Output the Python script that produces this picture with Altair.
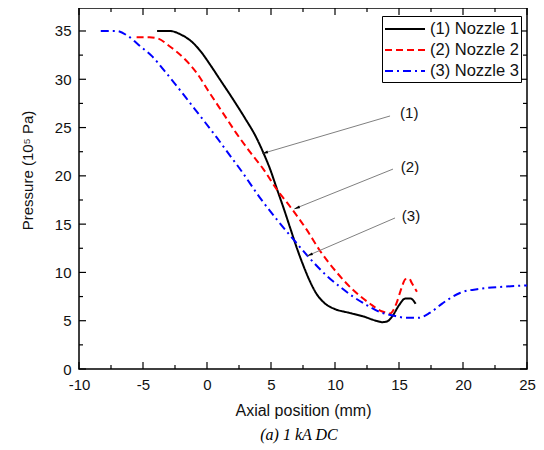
import altair as alt
import pandas as pd

# ---- data ----
n1_x = [-3.9, -2.9, -2.0, -1.2, -0.5, 0.3, 1.0, 2.0, 3.0, 3.8, 4.4, 4.9, 5.5, 6.0, 6.5, 7.0, 7.5, 8.0, 8.5, 9.2, 10.0, 11.0, 12.2, 13.2, 13.7, 14.1, 14.5, 15.0, 15.5, 15.9, 16.3]
n1_y = [35.0, 35.0, 34.6, 33.9, 32.9, 31.4, 30.0, 28.0, 25.9, 24.1, 22.4, 20.8, 18.5, 16.6, 14.6, 12.6, 10.8, 9.2, 7.9, 6.8, 6.2, 5.85, 5.45, 5.0, 4.85, 4.95, 5.5, 6.6, 7.3, 7.3, 6.75]

n2_x = [-5.5, -4.5, -3.9, -2.9, -1.9, -0.8, 0.2, 1.25, 2.3, 3.4, 4.4, 5.5, 6.5, 7.8, 8.8, 10.2, 11.4, 12.7, 13.7, 14.3, 14.8, 15.2, 15.5, 15.8, 16.0, 16.4]
n2_y = [34.35, 34.35, 34.25, 33.4, 32.3, 30.65, 28.6, 26.5, 24.4, 22.4, 20.7, 18.5, 16.8, 14.4, 12.3, 9.9, 8.2, 6.8, 5.95, 5.75, 6.8, 8.4, 9.3, 9.35, 8.9, 8.0]

n3_x = [-8.3, -7.1, -6.2, -5.2, -4.3, -3.4, -2.3, -1.3, -0.3, 0.8, 1.8, 2.8, 4.1, 5.5, 6.7, 8.0, 9.4, 10.5, 11.4, 12.5, 13.5, 14.5, 15.6, 16.5, 17.4, 18.4, 19.8, 21.3, 22.9, 25.0]
n3_y = [35.0, 35.0, 34.5, 33.4, 32.4, 31.0, 29.2, 27.5, 25.8, 23.9, 22.1, 20.3, 17.8, 15.4, 13.5, 11.5, 9.6, 8.4, 7.5, 6.6, 5.9, 5.55, 5.3, 5.3, 5.8, 6.8, 7.9, 8.3, 8.5, 8.65]

names = ["(1) Nozzle 1", "(2) Nozzle 2", "(3) Nozzle 3"]
colors = ["#000000", "#ff0000", "#0000ff"]
dashes = [[1, 0], [7, 4], [8, 4, 2, 4]]

x_major = [-10, -5, 0, 5, 10, 15, 20, 25]
x_minor = [-7.5, -2.5, 2.5, 7.5, 12.5, 17.5, 22.5]
y_major = [0, 5, 10, 15, 20, 25, 30, 35]
y_minor = [2.5, 7.5, 12.5, 17.5, 22.5, 27.5, 32.5]

ann_labels = ["(1)", "(2)", "(3)"]
ann_text_x = [15.8, 15.86, 15.94]
ann_text_y = [26.5, 20.9, 15.84]
arr_x0 = [14.3, 14.53, 14.69]
arr_y0 = [26.2, 20.7, 15.64]
arr_x1 = [4.3, 6.8, 7.81]
arr_y1 = [22.3, 16.57, 11.7]
arr_ang = [253, 248, 247]

caption = "(a) 1 kA DC"

# ---- layout ----
W, H = 448, 361
FONT = "Liberation Sans"

rows = []
for nm, xs, ys in zip(names, [n1_x, n2_x, n3_x], [n1_y, n2_y, n3_y]):
    for i, (a, b) in enumerate(zip(xs, ys)):
        rows.append({"x": a, "y": b, "series": nm, "i": i})
df = pd.DataFrame(rows)

xscale = alt.Scale(domain=[-10, 25], nice=False, zero=False)
yscale = alt.Scale(domain=[0, 37.38], nice=False, zero=False)

lines = alt.Chart(df).mark_line(interpolate="monotone", strokeWidth=2).encode(
    x=alt.X("x:Q", scale=xscale, axis=alt.Axis(
        title="Axial position (mm)", values=x_major, ticks=False, domain=False, grid=False,
        labelFont=FONT, labelFontSize=15, labelColor="#111", labelPadding=8, labelFlush=False,
        labelExpr="replace(datum.label, '\u2212', '-')",
        titleFont=FONT, titleFontSize=16, titleFontWeight="normal", titleColor="#111",
        titleY=41, titleBaseline="middle")),
    y=alt.Y("y:Q", scale=yscale, axis=alt.Axis(
        title="Pressure (10⁵ Pa)", values=y_major, ticks=False, domain=False, grid=False,
        labelFont=FONT, labelFontSize=15, labelColor="#111", labelPadding=8, labelFlush=False,
        titleFont=FONT, titleFontSize=15, titleFontWeight="normal", titleColor="#111",
        titleX=-52, titleY=162, titleBaseline="middle", titleAngle=270, titleAlign="center")),
    color=alt.Color("series:N", scale=alt.Scale(domain=names, range=colors), legend=alt.Legend(title=None)),
    strokeDash=alt.StrokeDash("series:N", scale=alt.Scale(domain=names, range=dashes), legend=alt.Legend(title=None)),
    order="i:Q",
)

def xticks(vals, y0, y1):
    return alt.Chart(pd.DataFrame({"x": vals})).mark_rule(color="black", strokeWidth=1.2).encode(
        x=alt.X("x:Q", scale=xscale), y=alt.value(y0), y2=alt.value(y1))

def yticks(vals, x0, x1):
    return alt.Chart(pd.DataFrame({"y": vals})).mark_rule(color="black", strokeWidth=1.2).encode(
        y=alt.Y("y:Q", scale=yscale), x=alt.value(x0), x2=alt.value(x1))

ticks = [
    xticks(x_major, H, H - 7), xticks(x_minor, H, H - 4),
    xticks(x_major, 0, 7), xticks(x_minor, 0, 4),
    yticks(y_major, 0, 7), yticks(y_minor, 0, 4),
    yticks(y_major, W, W - 7), yticks(y_minor, W, W - 4),
]

arr_df = pd.DataFrame({"x": arr_x0, "y": arr_y0, "x2": arr_x1, "y2": arr_y1})
arrows = alt.Chart(arr_df).mark_rule(color="#808080", strokeWidth=1).encode(
    x=alt.X("x:Q", scale=xscale), y=alt.Y("y:Q", scale=yscale), x2="x2:Q", y2="y2:Q")

head_df = pd.DataFrame({"x": arr_x1, "y": arr_y1, "ang": arr_ang})
heads = alt.Chart(head_df).mark_point(
    shape="M0,0L0.45,2L-0.45,2Z", filled=True, size=36, color="black", opacity=1).encode(
    x=alt.X("x:Q", scale=xscale), y=alt.Y("y:Q", scale=yscale), angle=alt.Angle("ang:Q", scale=None))

txt_df = pd.DataFrame({"x": ann_text_x, "y": ann_text_y, "t": ann_labels})
texts = alt.Chart(txt_df).mark_text(font=FONT, fontSize=15, color="#111", align="center", baseline="middle").encode(
    x=alt.X("x:Q", scale=xscale), y=alt.Y("y:Q", scale=yscale), text="t:N")

cap = alt.Chart(pd.DataFrame({"t": [caption]})).mark_text(
    font="Liberation Serif", fontStyle="italic", fontSize=16, color="black", align="center", baseline="middle").encode(
    x=alt.value(220), y=alt.value(H + 66), text="t:N")

chart = alt.layer(lines, *ticks, arrows, heads, texts, cap).properties(
    width=W, height=H,
    autosize=alt.AutoSizeParams(type="none"),
    padding={"left": 71, "top": 0, "right": 9, "bottom": 76},
).configure_view(stroke="black", strokeWidth=1.5).configure_legend(
    orient="none", legendX=303, legendY=8,
    symbolType="M-1,0H3", symbolSize=400, symbolStrokeWidth=2,
    labelFont=FONT, labelFontSize=16.5, labelColor="#111", labelOffset=24,
    strokeColor="black", fillColor="white", padding=2, rowPadding=1,
)

chart.save("out.html", embed_options={"renderer": "svg", "actions": False})
